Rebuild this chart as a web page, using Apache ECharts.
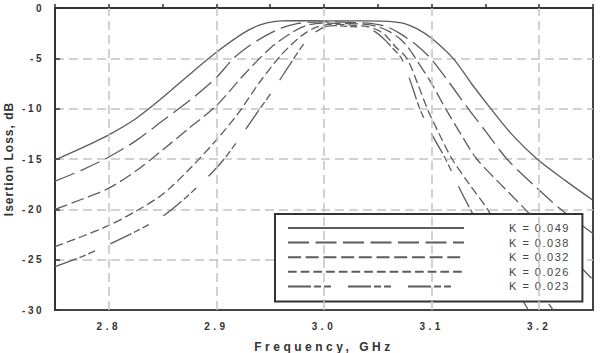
<!DOCTYPE html>
<html>
<head>
<meta charset="utf-8">
<script src="https://cdn.jsdelivr.net/npm/echarts@6/dist/echarts.min.js"></script>
<style>
  html, body { margin: 0; padding: 0; background: #fff; }
  #chart { width: 607px; height: 353px; }
</style>
</head>
<body>
<div id="chart"></div>
<script>
// [frequency GHz, insertion loss dB]
var k049 = [[2.75,-15.1],[2.775,-13.9],[2.8,-12.6],[2.825,-11.0],[2.85,-8.9],[2.875,-6.6],[2.9,-4.4],[2.925,-2.5],[2.94,-1.7],[2.955,-1.33],[2.97,-1.26],[3.0,-1.27],[3.04,-1.27],[3.06,-1.32],[3.075,-1.55],[3.087,-2.1],[3.1,-3.0],[3.12,-5.0],[3.137,-7.5],[3.155,-10.0],[3.175,-12.6],[3.198,-15.0],[3.225,-17.2],[3.25,-19.1]];
var k038 = [[2.75,-17.2],[2.775,-16.1],[2.8,-14.8],[2.825,-13.2],[2.85,-11.2],[2.875,-9.2],[2.9,-6.9],[2.916,-5.0],[2.93,-3.8],[2.945,-2.8],[2.96,-2.0],[2.975,-1.55],[2.99,-1.4],[3.01,-1.38],[3.03,-1.45],[3.045,-1.55],[3.058,-1.85],[3.07,-2.5],[3.085,-3.6],[3.099,-5.0],[3.117,-7.5],[3.134,-10.0],[3.152,-12.5],[3.17,-15.0],[3.195,-17.6],[3.22,-20.0],[3.25,-22.4]];
var k032 = [[2.75,-20.0],[2.775,-19.0],[2.8,-17.9],[2.825,-16.2],[2.85,-14.1],[2.875,-11.9],[2.9,-9.7],[2.925,-6.7],[2.95,-4.0],[2.97,-2.45],[2.985,-1.7],[3.0,-1.5],[3.02,-1.55],[3.035,-1.6],[3.05,-1.85],[3.06,-2.3],[3.07,-3.0],[3.078,-3.9],[3.085,-5.0],[3.1,-7.5],[3.113,-10.0],[3.127,-12.5],[3.142,-15.0],[3.165,-17.6],[3.187,-20.0],[3.21,-22.6],[3.25,-27.0]];
var k026 = [[2.75,-23.7],[2.775,-22.7],[2.8,-21.6],[2.825,-20.2],[2.85,-18.5],[2.875,-16.0],[2.9,-13.1],[2.92,-10.5],[2.94,-7.4],[2.96,-4.7],[2.978,-2.85],[2.993,-1.9],[3.01,-1.6],[3.025,-1.7],[3.04,-1.85],[3.05,-2.2],[3.058,-2.8],[3.066,-3.8],[3.077,-5.0],[3.087,-7.5],[3.096,-10.0],[3.107,-12.5],[3.119,-15.0],[3.135,-17.5],[3.152,-20.0],[3.18,-25.0],[3.213,-30.0]];
var k023 = [[2.75,-25.7],[2.775,-24.7],[2.8,-23.5],[2.825,-22.2],[2.85,-20.7],[2.875,-18.5],[2.9,-15.9],[2.915,-13.9],[2.931,-11.45],[2.953,-8.1],[2.969,-5.5],[2.984,-3.2],[2.998,-2.0],[3.01,-1.75],[3.025,-1.85],[3.04,-2.0],[3.048,-2.4],[3.055,-3.0],[3.063,-3.9],[3.072,-5.0],[3.081,-7.5],[3.089,-10.0],[3.1,-12.5],[3.113,-15.0],[3.124,-17.5],[3.136,-20.0],[3.162,-25.0],[3.19,-30.0]];

var seriesNames = ['K = 0.049', 'K = 0.038', 'K = 0.032', 'K = 0.026', 'K = 0.023'];
var xGridTicks = [2.8, 2.9, 3.0, 3.1, 3.2];

var chart = echarts.init(document.getElementById('chart'), null, { renderer: 'svg' });

var lineColor = '#5c5c5c';
var dashes = ['solid', [21, 6.5], [13, 4.7], [8.7, 4], [23, 3, 7, 3, 7, 17]];
var curves = [k049, k038, k032, k026, k023];

var series = [];
// vertical grid lines at the labelled frequencies
series.push({
  type: 'line',
  data: [],
  z: 1,
  silent: true,
  markLine: {
    silent: true,
    symbol: ['none', 'none'],
    label: { show: false },
    lineStyle: { color: '#c4c4c4', type: [9, 5], width: 1.5 },
    data: xGridTicks.map(function (v) { return { xAxis: v }; })
  }
});
for (var i = 0; i < curves.length; i++) {
  series.push({
    name: seriesNames[i],
    type: 'line',
    data: curves[i],
    z: 3,
    symbol: 'none',
    smooth: 0.3,
    itemStyle: { color: lineColor },
    lineStyle: { color: lineColor, width: 1.3, type: dashes[i] }
  });
}

chart.setOption({
  animation: false,
  textStyle: { fontFamily: 'Liberation Sans, Arial, sans-serif' },
  grid: {
    left: 55, top: 8, right: 14, bottom: 43,
    outerBoundsMode: 'none',
    show: true, borderColor: '#444', borderWidth: 2
  },
  legend: {
    data: seriesNames,
    orient: 'vertical',
    left: 275,
    top: 214,
    padding: [8, 26, 9, 12],
    itemWidth: 176,
    itemHeight: 12,
    itemGap: 2.6,
    backgroundColor: '#fff',
    borderColor: '#333',
    borderWidth: 2,
    itemStyle: { opacity: 0 },
    textStyle: { fontSize: 11, color: '#444', lineHeight: 12, padding: [0, 0, 0, 40] }
  },
  xAxis: {
    type: 'value',
    min: 2.75,
    max: 3.25,
    interval: 0.05,
    name: 'Frequency, GHz',
    nameLocation: 'middle',
    nameGap: 31,
    nameTextStyle: { fontSize: 12, fontWeight: 'bold', color: '#333' },
    axisLine: { lineStyle: { color: '#333', width: 2 } },
    axisTick: { inside: true, length: 4, lineStyle: { color: '#333', width: 1.5 } },
    splitLine: { show: false },
    axisLabel: {
      fontSize: 10, fontWeight: 'bold', color: '#333', margin: 11,
      formatter: function (v) {
        return Math.abs(v * 10 - Math.round(v * 10)) < 1e-6 ? v.toFixed(1) : '';
      }
    }
  },
  yAxis: {
    type: 'value',
    min: -30,
    max: 0,
    interval: 5,
    name: 'Isertion Loss, dB',
    nameLocation: 'middle',
    nameGap: 40,
    nameTextStyle: { fontSize: 12, fontWeight: 'bold', color: '#333' },
    axisLine: { show: true, lineStyle: { color: '#333', width: 2 } },
    axisTick: { show: true, inside: true, length: 5, lineStyle: { color: '#333', width: 1.5 } },
    splitLine: {
      showMinLine: false, showMaxLine: false,
      lineStyle: { color: '#c4c4c4', type: [9, 5], width: 1.5 }
    },
    axisLabel: { fontSize: 10, fontWeight: 'bold', color: '#333', margin: 11 }
  },
  series: series
});

// the original uses widely letter-spaced text
function spaceText() {
  document.querySelectorAll('#chart text').forEach(function (t) {
    var s = t.textContent.trim();
    var sp = 1.5;
    if (s === 'Frequency, GHz') sp = 3.5;
    else if (s === 'Isertion Loss, dB') sp = 1;
    else if (/^\d\.\d$/.test(s)) sp = 3.5;
    else if (/^-?\d+$/.test(s)) sp = 2.5;
    t.setAttribute('letter-spacing', sp);
    t.style.letterSpacing = sp + 'px';
  });
}
spaceText();
chart.on('finished', spaceText);
setTimeout(spaceText, 50);
</script>
</body>
</html>
